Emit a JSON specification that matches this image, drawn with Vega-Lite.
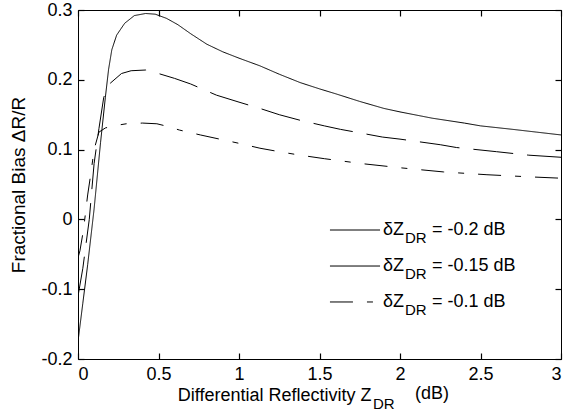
{
  "$schema": "https://vega.github.io/schema/vega-lite/v6.json",
  "width": 483,
  "height": 349,
  "autosize": "none",
  "padding": {"left": 78, "top": 10, "right": 9, "bottom": 58},
  "background": "white",
  "view": {"stroke": "black", "strokeWidth": 1},
  "config": {
    "font": "Liberation Sans",
    "axis": {"grid": false, "domain": false, "ticks": true, "zindex": 1, "tickColor": "black", "labelColor": "black", "titleColor": "black", "labelFont": "Liberation Sans", "titleFont": "Liberation Sans", "labelFontSize": 18, "titleFontSize": 18, "titleFontWeight": "normal", "tickSize": 6, "tickWidth": 1.2}
  },
  "datasets": {
    "curves": [
      {"s": "-0.2", "x": 0, "y": -0.175},
      {"s": "-0.2", "x": 0.03, "y": -0.12},
      {"s": "-0.2", "x": 0.06, "y": -0.065},
      {"s": "-0.2", "x": 0.1, "y": 0.015},
      {"s": "-0.2", "x": 0.14, "y": 0.11},
      {"s": "-0.2", "x": 0.17, "y": 0.175},
      {"s": "-0.2", "x": 0.19, "y": 0.215},
      {"s": "-0.2", "x": 0.21, "y": 0.243},
      {"s": "-0.2", "x": 0.24, "y": 0.264},
      {"s": "-0.2", "x": 0.29, "y": 0.281},
      {"s": "-0.2", "x": 0.35, "y": 0.292},
      {"s": "-0.2", "x": 0.42, "y": 0.295},
      {"s": "-0.2", "x": 0.48, "y": 0.294},
      {"s": "-0.2", "x": 0.55, "y": 0.288},
      {"s": "-0.2", "x": 0.62, "y": 0.279},
      {"s": "-0.2", "x": 0.7, "y": 0.266},
      {"s": "-0.2", "x": 0.8, "y": 0.251},
      {"s": "-0.2", "x": 0.9, "y": 0.240},
      {"s": "-0.2", "x": 1.0, "y": 0.231},
      {"s": "-0.2", "x": 1.13, "y": 0.220},
      {"s": "-0.2", "x": 1.25, "y": 0.208},
      {"s": "-0.2", "x": 1.38, "y": 0.196},
      {"s": "-0.2", "x": 1.5, "y": 0.187},
      {"s": "-0.2", "x": 1.6, "y": 0.180},
      {"s": "-0.2", "x": 1.75, "y": 0.169},
      {"s": "-0.2", "x": 1.9, "y": 0.159},
      {"s": "-0.2", "x": 2.0, "y": 0.154},
      {"s": "-0.2", "x": 2.2, "y": 0.145},
      {"s": "-0.2", "x": 2.4, "y": 0.138},
      {"s": "-0.2", "x": 2.5, "y": 0.134},
      {"s": "-0.2", "x": 2.7, "y": 0.129},
      {"s": "-0.2", "x": 2.85, "y": 0.125},
      {"s": "-0.2", "x": 3.0, "y": 0.121},
      {"s": "-0.15", "x": 0, "y": -0.11},
      {"s": "-0.15", "x": 0.03, "y": -0.07},
      {"s": "-0.15", "x": 0.07, "y": 0.0},
      {"s": "-0.15", "x": 0.1, "y": 0.08},
      {"s": "-0.15", "x": 0.13, "y": 0.13},
      {"s": "-0.15", "x": 0.16, "y": 0.175},
      {"s": "-0.15", "x": 0.2, "y": 0.195},
      {"s": "-0.15", "x": 0.27, "y": 0.209},
      {"s": "-0.15", "x": 0.33, "y": 0.213},
      {"s": "-0.15", "x": 0.42, "y": 0.214},
      {"s": "-0.15", "x": 0.5, "y": 0.209},
      {"s": "-0.15", "x": 0.6, "y": 0.202},
      {"s": "-0.15", "x": 0.7, "y": 0.194},
      {"s": "-0.15", "x": 0.86, "y": 0.178},
      {"s": "-0.15", "x": 1.0, "y": 0.168},
      {"s": "-0.15", "x": 1.13, "y": 0.159},
      {"s": "-0.15", "x": 1.25, "y": 0.150},
      {"s": "-0.15", "x": 1.38, "y": 0.142},
      {"s": "-0.15", "x": 1.53, "y": 0.134},
      {"s": "-0.15", "x": 1.63, "y": 0.129},
      {"s": "-0.15", "x": 1.75, "y": 0.124},
      {"s": "-0.15", "x": 1.89, "y": 0.118},
      {"s": "-0.15", "x": 2.0, "y": 0.115},
      {"s": "-0.15", "x": 2.25, "y": 0.107},
      {"s": "-0.15", "x": 2.35, "y": 0.103},
      {"s": "-0.15", "x": 2.6, "y": 0.097},
      {"s": "-0.15", "x": 2.8, "y": 0.092},
      {"s": "-0.15", "x": 3.0, "y": 0.089},
      {"s": "-0.1", "x": 0, "y": -0.055},
      {"s": "-0.1", "x": 0.012, "y": -0.045},
      {"s": "-0.1", "x": 0.034, "y": -0.015},
      {"s": "-0.1", "x": 0.06, "y": 0.035},
      {"s": "-0.1", "x": 0.08, "y": 0.066},
      {"s": "-0.1", "x": 0.1, "y": 0.1},
      {"s": "-0.1", "x": 0.13, "y": 0.125},
      {"s": "-0.1", "x": 0.17, "y": 0.131},
      {"s": "-0.1", "x": 0.22, "y": 0.134},
      {"s": "-0.1", "x": 0.3, "y": 0.137},
      {"s": "-0.1", "x": 0.4, "y": 0.138},
      {"s": "-0.1", "x": 0.49, "y": 0.137},
      {"s": "-0.1", "x": 0.56, "y": 0.133},
      {"s": "-0.1", "x": 0.63, "y": 0.128},
      {"s": "-0.1", "x": 0.76, "y": 0.121},
      {"s": "-0.1", "x": 0.9, "y": 0.114},
      {"s": "-0.1", "x": 1.0, "y": 0.109},
      {"s": "-0.1", "x": 1.13, "y": 0.102},
      {"s": "-0.1", "x": 1.25, "y": 0.097},
      {"s": "-0.1", "x": 1.38, "y": 0.092},
      {"s": "-0.1", "x": 1.53, "y": 0.087},
      {"s": "-0.1", "x": 1.76, "y": 0.080},
      {"s": "-0.1", "x": 2.0, "y": 0.074},
      {"s": "-0.1", "x": 2.27, "y": 0.068},
      {"s": "-0.1", "x": 2.54, "y": 0.064},
      {"s": "-0.1", "x": 2.8, "y": 0.061},
      {"s": "-0.1", "x": 3.0, "y": 0.059}
    ],
    "one": [{}]
  },
  "layer": [
    {
      "data": {"name": "curves"},
      "mark": {"type": "line", "color": "black", "strokeWidth": 1, "clip": true},
      "encoding": {
        "x": {"field": "x", "type": "quantitative", "scale": {"domain": [0, 3], "nice": false, "zero": false},
          "axis": {"orient": "bottom", "offset": -6, "values": [0, 0.5, 1, 1.5, 2, 2.5, 3], "labelPadding": 6, "labelExpr": "format(datum.value, '~g')", "title": "Differential Reflectivity Z", "titleX": 293, "titleY": 47, "titleAlign": "right", "titleBaseline": "alphabetic", "titleAnchor": null}},
        "y": {"field": "y", "type": "quantitative", "scale": {"domain": [-0.2, 0.3], "nice": false, "zero": false},
          "axis": {"orient": "left", "offset": -6, "values": [-0.2, -0.1, 0, 0.1, 0.2, 0.3], "labelPadding": 6, "labelExpr": "datum.value < 0 ? '-' + format(-datum.value, '~g') : format(datum.value, '~g')", "title": "Fractional Bias  ΔR/R", "titlePadding": 12, "titleFontSize": 19}},
        "strokeDash": {"field": "s", "type": "nominal", "scale": {"domain": ["-0.2", "-0.15", "-0.1"], "range": [[1, 0], [40, 14], [23, 14, 6, 14]]}, "legend": null},
        "detail": {"field": "s"}
      }
    },
    {
      "data": {"name": "curves"},
      "mark": {"type": "point", "opacity": 0},
      "encoding": {
        "x": {"field": "x", "type": "quantitative", "axis": {"orient": "top", "offset": -6, "values": [0, 0.5, 1, 1.5, 2, 2.5, 3], "labels": false, "title": null}},
        "y": {"field": "y", "type": "quantitative", "axis": {"orient": "right", "offset": -6, "values": [-0.2, -0.1, 0, 0.1, 0.2, 0.3], "labels": false, "title": null}}
      }
    },
    {"data": {"name": "one"}, "mark": {"type": "rule", "color": "black", "strokeWidth": 1}, "encoding": {"x": {"datum": 1.565, "axis": null}, "x2": {"datum": 1.876}, "y": {"datum": -0.0152, "axis": null}}},
    {"data": {"name": "one"}, "mark": {"type": "rule", "color": "black", "strokeWidth": 1}, "encoding": {"x": {"datum": 1.565, "axis": null}, "x2": {"datum": 1.876}, "y": {"datum": -0.0668, "axis": null}}},
    {"data": {"name": "one"}, "mark": {"type": "rule", "color": "black", "strokeWidth": 1, "strokeDash": [23, 14, 6, 14]}, "encoding": {"x": {"datum": 1.565, "axis": null}, "x2": {"datum": 1.876}, "y": {"datum": -0.1183, "axis": null}}},
    {"data": {"name": "one"}, "mark": {"type": "text", "align": "left", "baseline": "middle", "fontSize": 18, "color": "black", "text": "δZ"}, "encoding": {"x": {"datum": 1.894, "axis": null}, "y": {"datum": -0.0152, "axis": null}}},
    {"data": {"name": "one"}, "mark": {"type": "text", "align": "left", "baseline": "middle", "fontSize": 18, "color": "black", "text": "δZ"}, "encoding": {"x": {"datum": 1.894, "axis": null}, "y": {"datum": -0.0668, "axis": null}}},
    {"data": {"name": "one"}, "mark": {"type": "text", "align": "left", "baseline": "middle", "fontSize": 18, "color": "black", "text": "δZ"}, "encoding": {"x": {"datum": 1.894, "axis": null}, "y": {"datum": -0.1183, "axis": null}}},
    {"data": {"name": "one"}, "mark": {"type": "text", "align": "left", "baseline": "middle", "fontSize": 15, "dy": 8, "color": "black", "text": "DR"}, "encoding": {"x": {"datum": 2.031, "axis": null}, "y": {"datum": -0.0152, "axis": null}}},
    {"data": {"name": "one"}, "mark": {"type": "text", "align": "left", "baseline": "middle", "fontSize": 15, "dy": 8, "color": "black", "text": "DR"}, "encoding": {"x": {"datum": 2.031, "axis": null}, "y": {"datum": -0.0668, "axis": null}}},
    {"data": {"name": "one"}, "mark": {"type": "text", "align": "left", "baseline": "middle", "fontSize": 15, "dy": 8, "color": "black", "text": "DR"}, "encoding": {"x": {"datum": 2.031, "axis": null}, "y": {"datum": -0.1183, "axis": null}}},
    {"data": {"name": "one"}, "mark": {"type": "text", "align": "left", "baseline": "middle", "fontSize": 18, "color": "black", "text": "= -0.2 dB"}, "encoding": {"x": {"datum": 2.199, "axis": null}, "y": {"datum": -0.0152, "axis": null}}},
    {"data": {"name": "one"}, "mark": {"type": "text", "align": "left", "baseline": "middle", "fontSize": 18, "color": "black", "text": "= -0.15 dB"}, "encoding": {"x": {"datum": 2.199, "axis": null}, "y": {"datum": -0.0668, "axis": null}}},
    {"data": {"name": "one"}, "mark": {"type": "text", "align": "left", "baseline": "middle", "fontSize": 18, "color": "black", "text": "= -0.1 dB"}, "encoding": {"x": {"datum": 2.199, "axis": null}, "y": {"datum": -0.1183, "axis": null}}},
    {"data": {"name": "one"}, "mark": {"type": "text", "align": "left", "baseline": "middle", "fontSize": 15, "color": "black", "text": "DR"}, "encoding": {"x": {"datum": 1.832, "axis": null}, "y": {"datum": -0.2645, "axis": null}}},
    {"data": {"name": "one"}, "mark": {"type": "text", "align": "left", "baseline": "middle", "fontSize": 18, "color": "black", "text": "(dB)"}, "encoding": {"x": {"datum": 2.093, "axis": null}, "y": {"datum": -0.2501, "axis": null}}}
  ]
}
